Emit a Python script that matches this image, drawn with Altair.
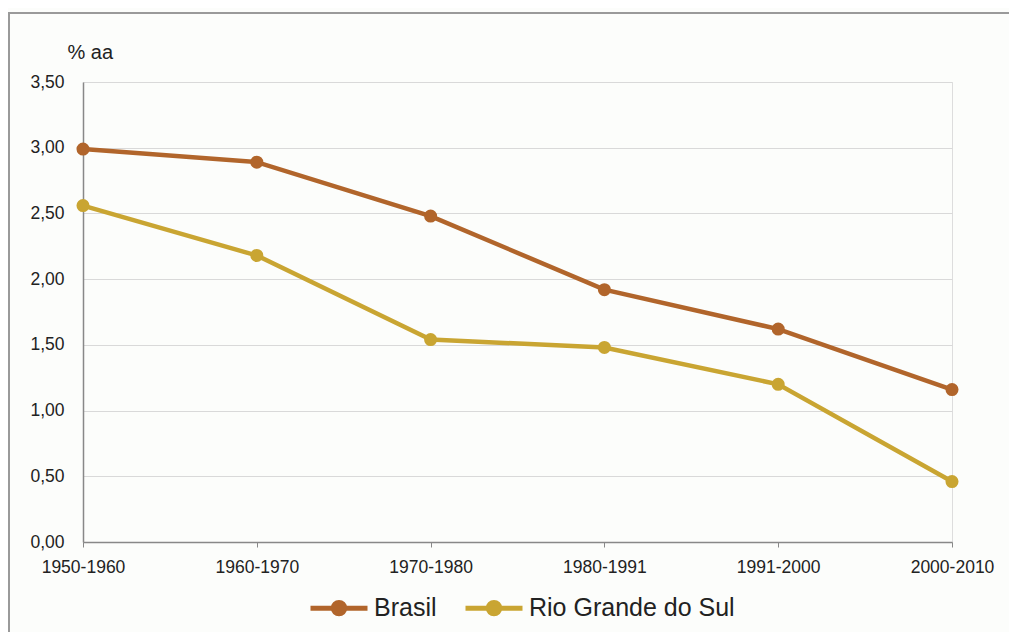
import altair as alt
import pandas as pd

periods = ["1950-1960", "1960-1970", "1970-1980", "1980-1991", "1991-2000", "2000-2010"]
brasil = [2.99, 2.89, 2.48, 1.92, 1.62, 1.16]
rgs = [2.56, 2.18, 1.54, 1.48, 1.20, 0.46]
series_names = ["Brasil", "Rio Grande do Sul"]
series_colors = ["#B1652B", "#C9A532"]
y_ticks = [0, 0.5, 1, 1.5, 2, 2.5, 3, 3.5]

rows = []
for p, b, r in zip(periods, brasil, rgs):
    rows.append({"periodo": p, "serie": series_names[0], "valor": b})
    rows.append({"periodo": p, "serie": series_names[1], "valor": r})
df = pd.DataFrame(rows)

FONT = "Liberation Sans"
LBL = 17.5

x = alt.X("periodo:N", sort=periods, scale=alt.Scale(type="point", padding=0),
          axis=alt.Axis(title=None, labelAngle=0, labelFontSize=LBL, labelColor="#222",
                        labelPadding=11, tickSize=5, tickColor="#888", domainColor="#888",
                        domainWidth=1.5, grid=False, labelFont=FONT))
y = alt.Y("valor:Q", scale=alt.Scale(domain=[0, 3.5], nice=False),
          axis=alt.Axis(values=y_ticks, labelExpr="replace(format(datum.value, '.2f'), '.', ',')",
                        title="% aa", titleAngle=0, titleAlign="left", titleBaseline="alphabetic",
                        titleX=-16, titleY=-24, titleFontSize=20, titleFontWeight="normal",
                        titleColor="#222", titleFont=FONT,
                        labelFontSize=LBL, labelColor="#222", labelPadding=19, labelFont=FONT,
                        ticks=False, domainColor="#888", domainWidth=1.5,
                        gridColor="#D9D9D9", gridWidth=1))

legend_path = "M-1,0L1,0M0.2,0A0.2,0.2,0,1,1,-0.2,0A0.2,0.2,0,1,1,0.2,0Z"
color = alt.Color("serie:N", scale=alt.Scale(domain=series_names, range=series_colors),
                  legend=alt.Legend(title=None, orient="none", direction="horizontal",
                                    legendX=225, legendY=495,
                                    symbolType=legend_path, symbolSize=3249, symbolStrokeWidth=5,
                                    labelFontSize=25, labelColor="#222", labelFont=FONT,
                                    labelLimit=500,
                                    labelOffset=4, columnPadding=18, symbolOpacity=1))

base = alt.Chart(df).encode(x=x, y=y, color=color)
lines = base.mark_line(strokeWidth=4.5)
points = base.mark_point(filled=True, size=170, opacity=1)

frame = alt.Chart(pd.DataFrame({"a": [0]})).mark_rect(
    fill=None, stroke="#9A9A9A", strokeWidth=2).encode(
    x=alt.value(-74), x2=alt.value(1100), y=alt.value(-69), y2=alt.value(700))

chart = alt.layer(frame, lines, points).properties(
    width=869, height=460,
    autosize=alt.AutoSizeParams(type="none"),
    padding={"left": 75, "top": 74, "right": 57, "bottom": 90},
    background="#FCFDFB",
).configure_view(stroke="#A8A8A8", strokeWidth=1.5).configure(font=FONT)

chart.save("out.html", embed_options={"renderer": "svg", "actions": False})
